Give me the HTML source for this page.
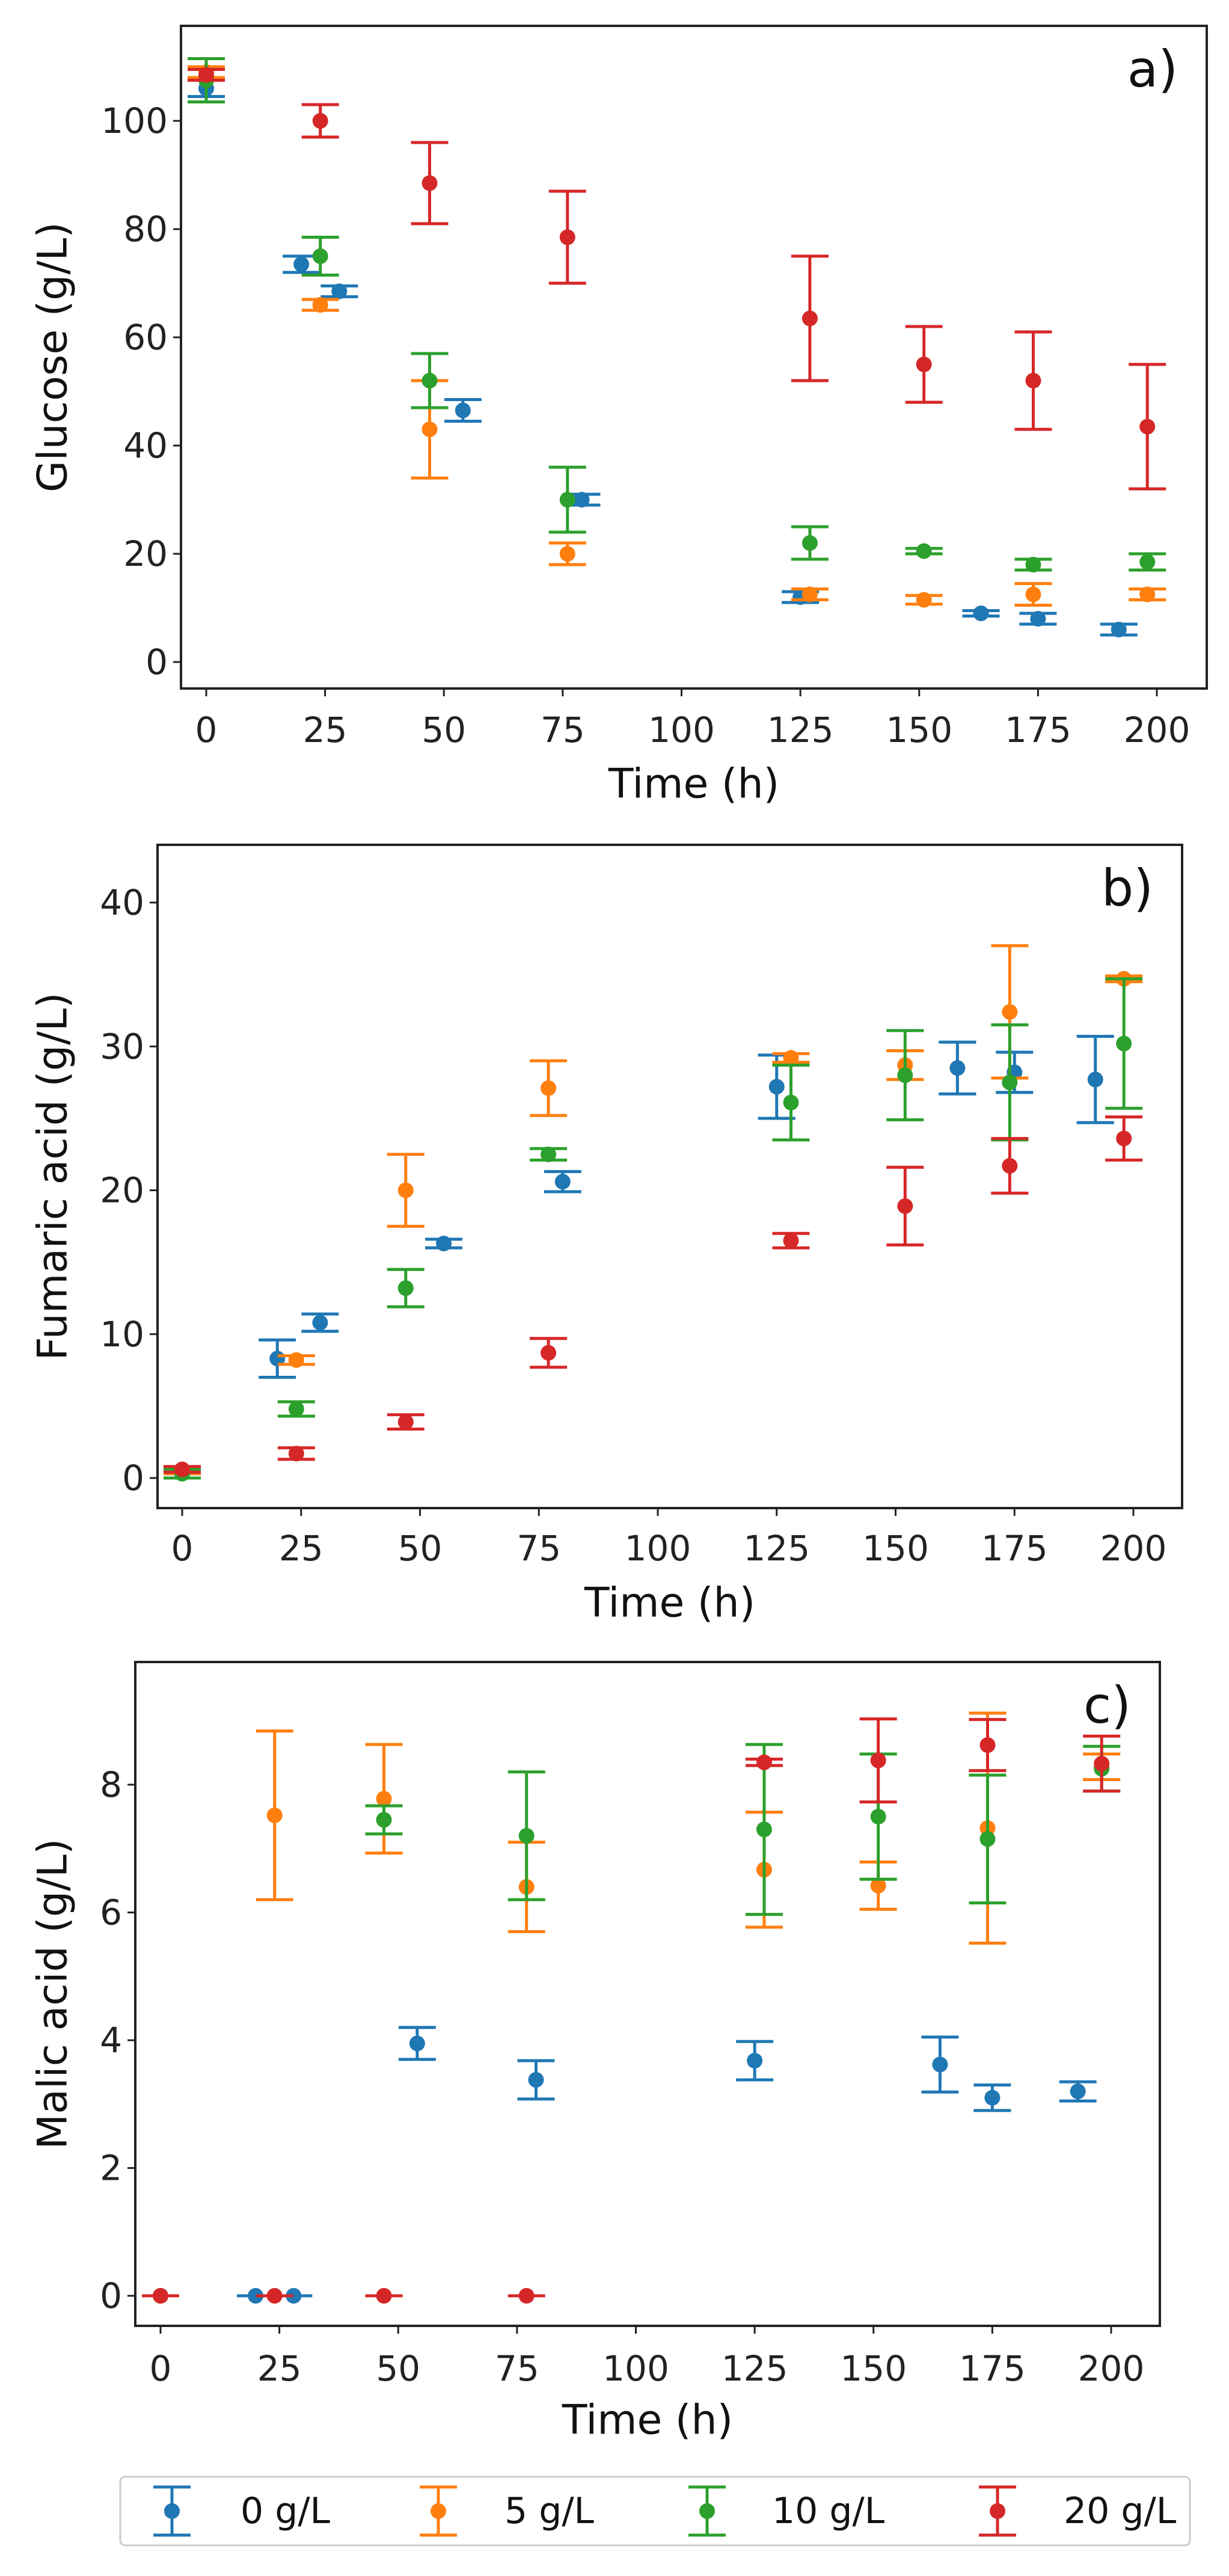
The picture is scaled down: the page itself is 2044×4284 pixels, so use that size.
<!DOCTYPE html>
<html><head><meta charset="utf-8"><style>
html,body{margin:0;padding:0;background:#fff;}
svg{display:block;font-family:"DejaVu Sans","Liberation Sans",sans-serif;}
</style></head><body>
<svg id="fig" width="2044" height="4284" viewBox="0 0 2044 4284" xmlns="http://www.w3.org/2000/svg"></svg>
<script>
const timeTicks=[0,25,50,75,100,125,150,175,200];
const seriesNames=["0 g/L","5 g/L","10 g/L","20 g/L"];
// Panel a: glucose
const gluT0=[0,20,28,54,79,125,163,175,192], gluV0=[106,73.5,68.5,46.5,30,12,9,8,6], gluE0=[1.5,1.5,1,2,1,1,0.5,1,1];
const gluT1=[0,24,47,76,127,151,174,198], gluV1=[109,66,43,20,12.5,11.5,12.5,12.5], gluE1=[1,1,9,2,1,0.8,2,1];
const gluT2=[0,24,47,76,127,151,174,198], gluV2=[107.5,75,52,30,22,20.5,18,18.5], gluE2=[4,3.5,5,6,3,0.5,1,1.5];
const gluT3=[0,24,47,76,127,151,174,198], gluV3=[108.5,100,88.5,78.5,63.5,55,52,43.5], gluE3=[1,3,7.5,8.5,11.5,7,9,11.5];
const gluTicks=[0,20,40,60,80,100];
// Panel b: fumaric acid
const fumT0=[0,20,29,55,80,125,163,175,192], fumV0=[0.5,8.3,10.8,16.3,20.6,27.2,28.5,28.2,27.7], fumE0=[0.2,1.3,0.6,0.3,0.7,2.2,1.8,1.4,3];
const fumT1=[0,24,47,77,128,152,174,198], fumV1=[0.5,8.2,20,27.1,29.2,28.7,32.4,34.7], fumE1=[0.2,0.3,2.5,1.9,0.3,1,4.6,0.2];
const fumT2=[0,24,47,77,128,152,174,198], fumV2=[0.3,4.8,13.2,22.5,26.1,28,27.5,30.2], fumE2=[0.3,0.5,1.3,0.4,2.6,3.1,4,4.5];
const fumT3=[0,24,47,77,128,152,174,198], fumV3=[0.6,1.7,3.9,8.7,16.5,18.9,21.7,23.6], fumE3=[0.2,0.4,0.5,1,0.5,2.7,1.9,1.5];
const fumTicks=[0,10,20,30,40];
// Panel c: malic acid
const malT0=[0,20,28,54,79,125,164,175,193], malV0=[0,0,0,3.95,3.38,3.68,3.62,3.1,3.2], malE0=[0,0,0,0.25,0.3,0.3,0.43,0.2,0.15];
const malT1=[0,24,47,77,127,151,174,198], malV1=[0,7.52,7.78,6.4,6.67,6.42,7.32,8.28], malE1=[0,1.32,0.85,0.7,0.9,0.37,1.8,0.2];
const malT2=[0,47,77,127,151,174,198], malV2=[0,7.45,7.2,7.3,7.5,7.15,8.25], malE2=[0,0.22,1.0,1.33,0.98,1.0,0.35];
const malT3=[0,24,47,77,127,151,174,198], malV3=[0,0,0,0,8.35,8.38,8.62,8.33], malE3=[0,0,0,0,0.05,0.65,0.4,0.43];
const malTicks=[0,2,4,6,8];

const colors=["#1f77b4","#ff7f0e","#2ca02c","#d62728"];
const NS="http://www.w3.org/2000/svg";
const svg=document.getElementById('fig');
function mk(tag,attrs,parent){const e=document.createElementNS(NS,tag);for(const k in attrs)e.setAttribute(k,attrs[k]);(parent||svg).appendChild(e);return e;}

function panel(cfg){
  const g=mk('g',{});
  
  
  const xs=t=>cfg.x0+(t-0)*(cfg.x200-cfg.x0)/200;
  const ys=v=>cfg.yA+(v-cfg.vA)*(cfg.yB-cfg.yA)/(cfg.vB-cfg.vA);
  // x ticks
  timeTicks.forEach(t=>{
    const l=mk('line',{x1:xs(t),x2:xs(t),y1:cfg.bottom,y2:cfg.bottom+13,stroke:'#222','stroke-width':3},g);
    
    
    const tx=mk('text',{x:xs(t),y:cfg.xtickY,'font-size':58,'text-anchor':'middle','dominant-baseline':'central',fill:'#222'},g);
    
    
    tx.textContent=t;
  });
  cfg.yticks.forEach(v=>{
    const l=mk('line',{x1:cfg.left-13,x2:cfg.left,y1:ys(v),y2:ys(v),stroke:'#222','stroke-width':3},g);
    
    
    const tx=mk('text',{x:cfg.left-22,y:ys(v),'font-size':58,'text-anchor':'end','dominant-baseline':'central',fill:'#222'},g);
    
    
    tx.textContent=v;
  });
  const xl=mk('text',{x:(cfg.left+cfg.right)/2,y:cfg.xlabY,'font-size':68,'text-anchor':'middle','dominant-baseline':'central',fill:'#111'},g);
  
  
  xl.textContent='Time (h)';
  const cy=(cfg.top+cfg.bottom)/2;
  const yl=mk('text',{x:88,y:cy,'font-size':68,'text-anchor':'middle','dominant-baseline':'central',fill:'#111',transform:`rotate(-90 88 ${cy})`},g);
  
  
  yl.textContent=cfg.ylabel;
  const pl=mk('text',{x:cfg.right-48,y:cfg.top+72,'font-size':84,'text-anchor':'end','dominant-baseline':'central',fill:'#111'},g);
  
  
  pl.textContent=cfg.label;
  // series
  cfg.series.forEach((s,i)=>{
    const sg=mk('g',{},g);
    
    
    s.t.forEach((t,j)=>{
      const x=xs(t),y=ys(s.v[j]),yh=ys(s.v[j]+s.e[j]),yl2=ys(s.v[j]-s.e[j]);
      const c=colors[i];
      const eb=mk('path',{d:`M${x},${yh}V${yl2}M${x-31},${yh}H${x+31}M${x-31},${yl2}H${x+31}`,stroke:c,'stroke-width':5,fill:'none'},sg);
      
      
      const p=mk('circle',{cx:x,cy:y,r:13,fill:c},sg);
      
      
    });
  });
  const fr=mk('rect',{x:cfg.left,y:cfg.top,width:cfg.right-cfg.left,height:cfg.bottom-cfg.top,fill:'none',stroke:'#222','stroke-width':4},g);
  
  
}

panel({name:'glucose-panel',label:'a)',ylabel:'Glucose (g/L)',left:301,right:2007,top:43,bottom:1145,x0:343,x200:1924,yA:1101,vA:0,yB:201,vB:100,yticks:gluTicks,xtickY:1214,xlabY:1304,
  series:[{t:gluT0,v:gluV0,e:gluE0},{t:gluT1,v:gluV1,e:gluE1},{t:gluT2,v:gluV2,e:gluE2},{t:gluT3,v:gluV3,e:gluE3}]});
panel({name:'fumaric-panel',label:'b)',ylabel:'Fumaric acid (g/L)',left:262,right:1966,top:1405,bottom:2508,x0:303,x200:1885,yA:2458,vA:0,yB:1501,vB:40,yticks:fumTicks,xtickY:2575,xlabY:2666,
  series:[{t:fumT0,v:fumV0,e:fumE0},{t:fumT1,v:fumV1,e:fumE1},{t:fumT2,v:fumV2,e:fumE2},{t:fumT3,v:fumV3,e:fumE3}]});
panel({name:'malic-panel',label:'c)',ylabel:'Malic acid (g/L)',left:225,right:1929,top:2764,bottom:3868,x0:267,x200:1848,yA:3818,vA:0,yB:2968,vB:8,yticks:malTicks,xtickY:3939,xlabY:4025,
  series:[{t:malT0,v:malV0,e:malE0},{t:malT1,v:malV1,e:malE1},{t:malT2,v:malV2,e:malE2},{t:malT3,v:malV3,e:malE3}]});

// legend
const lg=mk('g',{});


const lb=mk('rect',{x:200,y:4119,width:1779,height:114,rx:8,fill:'#fff',stroke:'#ccc','stroke-width':3},lg);


const iconX=[286,729,1176,1659], textX=[400,839,1284,1769];
seriesNames.forEach((n,i)=>{
  const eg=mk('g',{},lg);
  
  
  const x=iconX[i],y=4176,c=colors[i];
  mk('path',{d:`M${x},${y-40}V${y+40}M${x-31},${y-40}H${x+31}M${x-31},${y+40}H${x+31}`,stroke:c,'stroke-width':5,fill:'none'},eg);
  mk('circle',{cx:x,cy:y,r:13,fill:c},eg);
  const t=mk('text',{x:textX[i],y:y,'font-size':60,'dominant-baseline':'central',fill:'#111'},eg);
  t.textContent=n;
});
</script>
</body></html>
